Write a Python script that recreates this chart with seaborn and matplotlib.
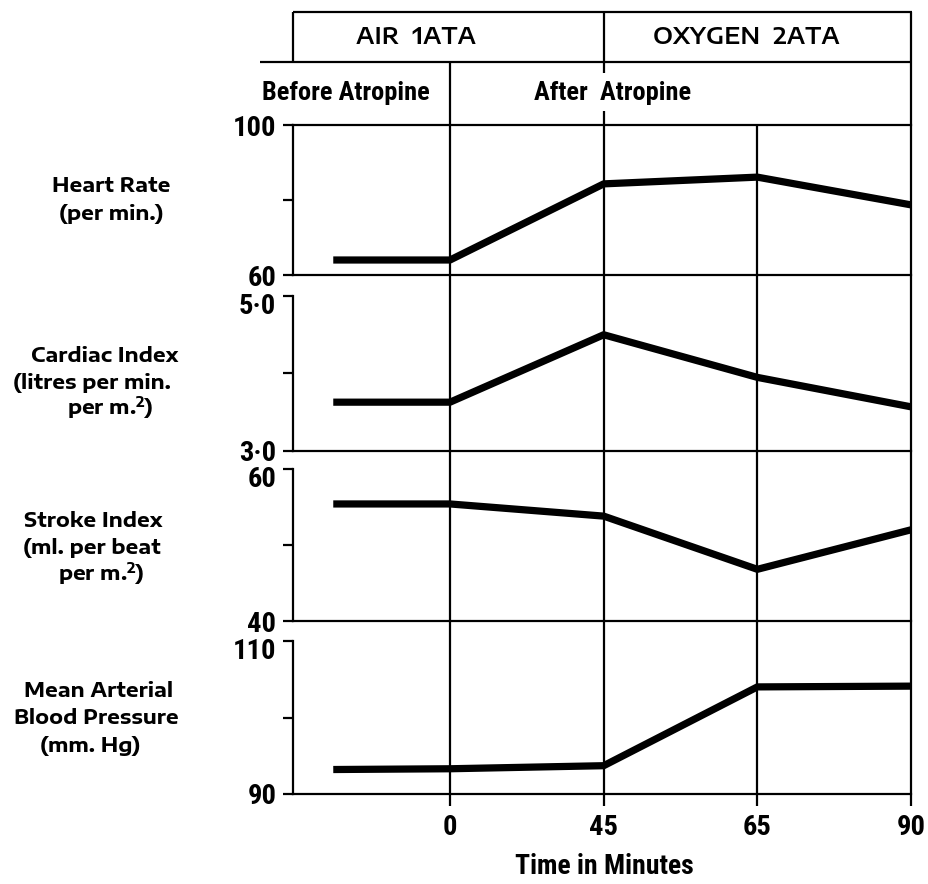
import matplotlib
matplotlib.use("Agg")
import matplotlib.pyplot as plt
import matplotlib.transforms as mtrans
from matplotlib.lines import Line2D
import pandas as pd
import seaborn as sns

# ---------------- data ----------------
time_labels = ["before", "0", "45", "65", "90"]
time_pos = [-0.76, 0, 1, 2, 3]          # ordinal positions on the time axis
heart_rate = [64.0, 64.0, 84.3, 86.1, 78.7]
cardiac_index = [3.63, 3.63, 4.50, 3.95, 3.57]
stroke_index = [55.4, 55.4, 53.8, 46.8, 52.0]
mean_bp = [93.2, 93.3, 93.7, 104.0, 104.1]

panel_labels = [
    ["Heart Rate", "(per min.)"],
    ["Cardiac Index", "(litres per min.", "per m.$^\\mathbf{2}$)"],
    ["Stroke Index", "(ml. per beat", "per m.$^\\mathbf{2}$)"],
    ["Mean Arterial", "Blood Pressure", "(mm. Hg)"],
]
y_limits = [(60, 100), (3.0, 5.0), (40, 60), (90, 110)]
y_ticklabels = [("60", "100"), ("3·0", "5·0"), ("40", "60"), ("90", "110")]
x_ticklabels = ["0", "45", "65", "90"]
header_top = ["AIR  1ATA", "OXYGEN  2ATA"]
header_mid = ["Before Atropine", "After  Atropine"]
x_title = "Time in Minutes"

series = [heart_rate, cardiac_index, stroke_index, mean_bp]

# ---------------- style ----------------
sns.set_theme(style="white")
COND = ["Roboto Condensed", "DejaVu Sans"]
EXP = ["Encode Sans Expanded", "DejaVu Sans"]
plt.rcParams["font.family"] = COND
for k in ["text.color", "axes.labelcolor", "xtick.color", "ytick.color",
          "axes.edgecolor"]:
    plt.rcParams[k] = "black"
plt.rcParams["mathtext.fontset"] = "custom"
plt.rcParams["mathtext.rm"] = "Encode Sans Expanded"
plt.rcParams["mathtext.bf"] = "Encode Sans Expanded:bold"

W, H = 929, 884
fig = plt.figure(figsize=(W / 100, H / 100), dpi=100)


def fx(px):
    return px / W


def fy(py):
    return 1 - py / H


AX_L, AX_R = 293, 911
panel_px = [(125, 275), (296, 451), (469, 621), (641, 794)]
# layout: centre of each label line (pixels)
label_line_pos = [
    [(111, 185), (111, 213)],
    [(105, 355), (92, 382), (110, 408)],
    [(93, 520), (92, 547), (101, 575)],
    [(99, 690), (96, 717), (90, 745)],
]
LW = 1.6
TICK_FS = 20.5

axes = []
for i, (vals, (top, bot)) in enumerate(zip(series, panel_px)):
    ax = fig.add_axes([fx(AX_L), fy(bot), fx(AX_R - AX_L), (bot - top) / H])
    df = pd.DataFrame({"t": time_pos, "v": vals})
    sns.lineplot(data=df, x="t", y="v", ax=ax, color="black", lw=5.2,
                 solid_capstyle="butt", solid_joinstyle="round", legend=False)
    ax.set_xlim(-1.022, 3.0)
    lo, hi = y_limits[i]
    ax.set_ylim(lo, hi)
    ax.set_yticks([lo, (lo + hi) / 2, hi])
    ax.set_yticklabels([y_ticklabels[i][0], "", y_ticklabels[i][1]])
    ax.tick_params(axis="y", left=True, direction="out", length=7, width=LW,
                   labelsize=TICK_FS, pad=5, colors="black")
    labs = ax.get_yticklabels()
    for lab in labs:
        lab.set_fontweight("bold")
    if i > 0:
        labs[2].set_va("top")
        labs[2].set_transform(labs[2].get_transform() +
                              mtrans.ScaledTranslation(0, 0.03, fig.dpi_scale_trans))
    for s in ["left", "bottom", "top"]:
        ax.spines[s].set_color("black")
        ax.spines[s].set_linewidth(LW)
    ax.spines["right"].set_visible(False)
    ax.spines["top"].set_visible(i == 0)
    ax.set_xlabel("")
    ax.set_ylabel("")
    if i == 3:
        ax.set_xticks(time_pos[1:])
        ax.set_xticklabels(x_ticklabels)
        ax.tick_params(axis="x", bottom=True, direction="out", length=8.5,
                       width=LW, labelsize=TICK_FS, pad=6, colors="black")
        for lab in ax.get_xticklabels():
            lab.set_fontweight("bold")
    else:
        ax.set_xticks([])
    ax.patch.set_alpha(0)
    axes.append(ax)
    for line, (cx, cy) in zip(panel_labels[i], label_line_pos[i]):
        fig.text(fx(cx), fy(cy + 7), line, ha="center", va="baseline",
                 fontsize=14.5, fontweight="bold", family=EXP)

# ---------------- frame lines ----------------
xtrans = mtrans.blended_transform_factory(axes[-1].transData, fig.transFigure)


def vline_data(x, y1, y2):
    fig.add_artist(Line2D([x, x], [fy(y1), fy(y2)], transform=xtrans,
                          color="black", lw=LW, solid_capstyle="butt"))


def hline_px(y, x1, x2):
    fig.add_artist(Line2D([fx(x1), fx(x2)], [fy(y), fy(y)],
                          transform=fig.transFigure, color="black", lw=LW,
                          solid_capstyle="butt"))


def vline_px(x, y1, y2):
    fig.add_artist(Line2D([fx(x), fx(x)], [fy(y1), fy(y2)],
                          transform=fig.transFigure, color="black", lw=LW,
                          solid_capstyle="butt"))


# header box
hline_px(12, AX_L, AX_R + 1)
hline_px(62, 260, AX_R + 1)
vline_px(AX_L, 12, 62)
vline_data(time_pos[-1], 12, 794)      # right border
vline_data(time_pos[2], 12, 73)        # divider air / oxygen
vline_data(time_pos[2], 111, 794)
vline_data(time_pos[1], 62, 794)       # atropine
vline_data(time_pos[3], 125, 794)      # 65 min

# header texts
fig.text(fx(416), fy(37), header_top[0], ha="center", va="center",
         fontsize=16.5, fontweight="semibold", family=EXP)
fig.text(fx(746), fy(37), header_top[1], ha="center", va="center",
         fontsize=16.5, fontweight="semibold", family=EXP)
fig.text(fx(346), fy(93), header_mid[0], ha="center", va="center",
         fontsize=19, fontweight="bold")
fig.text(fx(613), fy(93), header_mid[1], ha="center", va="center",
         fontsize=19, fontweight="bold")
fig.text(fx(604), fy(866), x_title, ha="center", va="center",
         fontsize=20, fontweight="bold")

fig.savefig("out.png", dpi=100, facecolor="white")
